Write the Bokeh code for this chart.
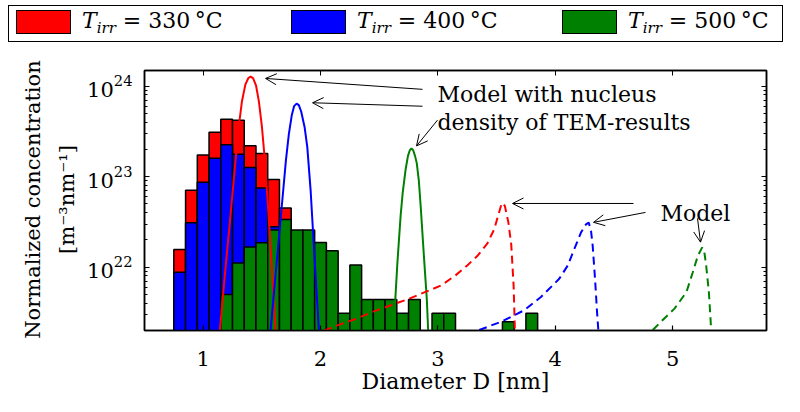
import math
from bokeh.plotting import figure
from bokeh.models import (Range1d, FixedTicker, LogAxis, LinearAxis, Label, Arrow,
                          OpenHead, LogTickFormatter, CustomJSTickFormatter, Div)
from bokeh.layouts import column
from bokeh.embed import file_html
from bokeh.resources import INLINE

# ---------------- data ----------------
bin_width = 0.1

red_centers = [0.8, 0.9, 1.0, 1.1, 1.2, 1.3, 1.4, 1.5, 1.6, 1.7]
red_values = [1.57e22, 7.1e22, 1.74e23, 3.1e23, 4.3e23, 4.2e23, 2.2e23, 1.8e23, 9.3e22, 4.5e22]

blue_centers = [0.8, 0.9, 1.0, 1.1, 1.2, 1.3, 1.4, 1.5, 1.6]
blue_values = [8.8e21, 3.1e22, 8.7e22, 1.6e23, 2.26e23, 1.77e23, 1.26e23, 7.5e22, 2.8e22]

green_centers = [1.2, 1.3, 1.4, 1.5, 1.6, 1.7, 1.8, 1.9, 2.0, 2.1, 2.2, 2.3, 2.4, 2.5,
                 2.6, 2.7, 2.8, 3.0, 3.1, 3.6, 3.8]
green_values = [5.0e21, 1.11e22, 1.67e22, 1.86e22, 2.58e22, 3.36e22, 2.58e22, 2.58e22,
                1.87e22, 1.52e22, 3.1e21, 1.06e22, 4.4e21, 4.4e21, 4.4e21, 3.1e21,
                4.4e21, 3.1e21, 3.1e21, 2.5e21, 3.1e21]

# model with nucleus density of TEM results (solid), log10 of concentration
red_tem_x = [1.142, 1.18, 1.224, 1.265, 1.30, 1.33, 1.36, 1.385, 1.404, 1.425, 1.45,
             1.475, 1.50, 1.523, 1.552, 1.583, 1.617]
red_tem_log = [21.30, 21.85, 22.45, 23.03, 23.52, 23.83, 24.02, 24.09, 24.106, 24.09,
               24.01, 23.83, 23.56, 23.22, 22.68, 22.03, 21.30]

blue_tem_x = [1.574, 1.61, 1.645, 1.68, 1.705, 1.73, 1.755, 1.775, 1.796, 1.815, 1.835,
              1.864, 1.887, 1.916, 1.95, 1.986]
blue_tem_log = [21.30, 21.82, 22.32, 22.82, 23.18, 23.47, 23.68, 23.78, 23.807, 23.79,
                23.72, 23.55, 23.33, 22.84, 22.08, 21.30]

green_tem_x = [2.626, 2.635, 2.655, 2.683, 2.70, 2.725, 2.745, 2.760, 2.775, 2.790,
               2.805, 2.82, 2.838, 2.854, 2.882, 2.905, 2.917]
green_tem_log = [21.306, 21.60, 22.05, 22.58, 22.82, 23.08, 23.23, 23.29, 23.314, 23.29,
                 23.23, 23.15, 22.95, 22.66, 22.10, 21.66, 21.306]

# model (dashed), log10 of concentration
red_mod_x = [2.03, 2.15, 2.3, 2.45, 2.6, 2.75, 2.9, 3.03, 3.15, 3.25, 3.34, 3.42, 3.48,
             3.52, 3.545, 3.57, 3.6, 3.625, 3.645, 3.656]
red_mod_log = [21.30, 21.36, 21.43, 21.51, 21.58, 21.65, 21.73, 21.80, 21.91, 22.02,
               22.13, 22.26, 22.42, 22.60, 22.71, 22.68, 22.50, 22.25, 21.80, 21.31]

blue_mod_x = [3.352, 3.551, 3.736, 3.878, 4.034, 4.106, 4.162, 4.219, 4.262, 4.285,
              4.305, 4.319, 4.339, 4.356, 4.367]
blue_mod_log = [21.306, 21.404, 21.525, 21.671, 21.872, 22.018, 22.20, 22.383, 22.474,
                22.493, 22.40, 22.236, 21.872, 21.507, 21.306]

green_mod_x = [4.831, 4.902, 5.016, 5.118, 5.172, 5.215, 5.252, 5.27, 5.286, 5.309,
               5.323, 5.328]
green_mod_log = [21.306, 21.40, 21.543, 21.726, 21.945, 22.127, 22.219, 22.17, 22.018,
                 21.726, 21.434, 21.306]

x_ticks = [1, 2, 3, 4, 5]
y_major_ticks = [1e22, 1e23, 1e24]

legend_temps = ["330", "400", "500"]
series_colors = ["#ff0000", "#0000ff", "#008000"]

# ---------------- layout constants ----------------
X0, X1 = 0.5, 5.8
Y0, Y1 = 2.0e21, 1.49e24
FONT = "DejaVu Serif"
TOTAL_W, TOTAL_H = 784, 396
LEG_H = 44
FL, FT, FW, FH = 144, 70, 622, 262  # frame position in page pixels (legend strip included)
FIG_H = TOTAL_H - LEG_H


def px2x(px):
    return X0 + (px - FL) / FW * (X1 - X0)


def py2y(py):
    l0, l1 = math.log10(Y0), math.log10(Y1)
    return 10 ** (l1 - (py - FT) / FH * (l1 - l0))


p = figure(width=TOTAL_W, height=FIG_H, x_range=Range1d(X0, X1), y_range=Range1d(Y0, Y1),
           y_axis_type="log", output_backend="svg", toolbar_location=None,
           min_border_left=FL, min_border_right=TOTAL_W - FL - FW,
           min_border_top=FT - LEG_H, min_border_bottom=TOTAL_H - FT - FH)
p.xgrid.grid_line_color = None
p.ygrid.grid_line_color = None
p.outline_line_color = "black"
p.outline_line_width = 1.5
p.background_fill_color = "white"

floor = 1e20
for centers, vals, col in [(red_centers, red_values, series_colors[0]),
                           (blue_centers, blue_values, series_colors[1]),
                           (green_centers, green_values, series_colors[2])]:
    p.quad(left=[c - bin_width / 2 for c in centers],
           right=[c + bin_width / 2 for c in centers],
           bottom=[floor] * len(centers), top=vals, fill_color=col, line_color="black",
           line_width=1.5)

for xs, ls, col in [(red_tem_x, red_tem_log, series_colors[0]),
                    (blue_tem_x, blue_tem_log, series_colors[1]),
                    (green_tem_x, green_tem_log, series_colors[2])]:
    p.line(xs, [10.0 ** v for v in ls], line_color=col, line_width=2)

for xs, ls, col in [(red_mod_x, red_mod_log, series_colors[0]),
                    (blue_mod_x, blue_mod_log, series_colors[1]),
                    (green_mod_x, green_mod_log, series_colors[2])]:
    p.line(xs, [10.0 ** v for v in ls], line_color=col, line_width=2, line_dash="8 5")

# axes
minor = [float(k) * 10.0 ** e for e in (21, 22, 23, 24) for k in range(2, 10)]
yt = FixedTicker(ticks=[float(v) for v in y_major_ticks], minor_ticks=minor)
xt = FixedTicker(ticks=x_ticks)

for ax in p.yaxis:
    ax.ticker = yt
    ax.formatter = LogTickFormatter()
for ax in p.xaxis:
    ax.ticker = xt
    ax.axis_label = "Diameter D [nm]"
    ax.axis_label_text_font = FONT
    ax.axis_label_text_font_size = "22px"
    ax.axis_label_text_font_style = "normal"
    ax.axis_label_text_color = "black"
    ax.axis_label_standoff = 0
    ax.minor_tick_line_color = None

for ax in list(p.xaxis) + list(p.yaxis):
    ax.major_tick_in = 5
    ax.major_tick_out = 0
    ax.minor_tick_in = 3
    ax.minor_tick_out = 0
    ax.axis_line_width = 1.5
    ax.major_tick_line_width = 1.2
    ax.major_label_text_font = FONT
    ax.major_label_text_font_size = "21px"
    ax.major_label_text_color = "black"
for ax in p.xaxis:
    ax.major_label_standoff = 20
for ax in p.yaxis:
    ax.major_label_standoff = 12

blank = CustomJSTickFormatter(code="return ''")
top = LinearAxis(ticker=xt, formatter=blank, major_tick_in=5, major_tick_out=0,
                 minor_tick_line_color=None, axis_line_width=1.5, major_label_standoff=0)
p.add_layout(top, "above")
right = LogAxis(ticker=yt, formatter=blank, major_tick_in=5, major_tick_out=0,
                minor_tick_in=3, minor_tick_out=0, axis_line_width=1.5,
                major_label_standoff=0)
p.add_layout(right, "right")

# y-axis label (two lines) -- in the left side panel so it is not clipped
for txt, lx in [("Normalized concentration", 32), ("[m⁻³nm⁻¹]", 66)]:
    p.add_layout(Label(x=px2x(lx), y=py2y(200), text=txt, angle=math.pi / 2,
                       text_align="center", text_baseline="middle", text_font=FONT,
                       text_font_size="21px", text_color="black"), "left")

# annotations inside the axes
for txt, lx, ly in [("Model with nucleus", 437, 94), ("density of TEM-results", 437, 122),
                    ("Model", 660, 214)]:
    p.add_layout(Label(x=px2x(lx), y=py2y(ly), text=txt, text_align="left",
                       text_baseline="alphabetic", text_font=FONT, text_font_size="22px",
                       text_color="black"))

arrows = [((422, 89), (265, 78)), ((422, 106), (312, 102.5)), ((437, 120), (416, 146)),
          ((633, 204), (512, 204)), ((645, 213), (593, 223)), ((697, 219), (700, 243))]
for (ax0, ay0), (ax1, ay1) in arrows:
    p.add_layout(Arrow(end=OpenHead(size=11, line_width=1, line_color="black"),
                       x_start=px2x(ax0), y_start=py2y(ay0), x_end=px2x(ax1), y_end=py2y(ay1),
                       line_color="black", line_width=1))

# ---------------- legend strip (HTML above the plot) ----------------
patch_left = [16, 291, 562]
parts = [f'<div style="position:relative;width:{TOTAL_W}px;height:{LEG_H}px;'
         f"font-family:'{FONT}',serif;font-size:22px;color:black;\">",
         '<div style="position:absolute;left:8px;top:5px;width:775px;height:37px;'
         'border:1.5px solid black;box-sizing:border-box;"></div>']
for i, temp in enumerate(legend_temps):
    x0 = patch_left[i]
    parts.append(f'<div style="position:absolute;left:{x0}px;top:10px;width:55px;height:24px;'
                 f'background:{series_colors[i]};border:1px solid black;'
                 'box-sizing:border-box;"></div>')
    parts.append(f'<div style="position:absolute;left:{x0 + 66}px;top:7px;line-height:28px;'
                 'white-space:nowrap;"><i>T</i><i style="font-size:15px;position:relative;'
                 f'top:5px;">irr</i> = {temp}&#8201;°C</div>')
parts.append('</div>')
legend_div = Div(text="".join(parts), width=TOTAL_W, height=LEG_H, margin=(0, 0, 0, 0))

layout = column(legend_div, p, spacing=0)
open("out.html", "w").write(file_html(layout, INLINE))
